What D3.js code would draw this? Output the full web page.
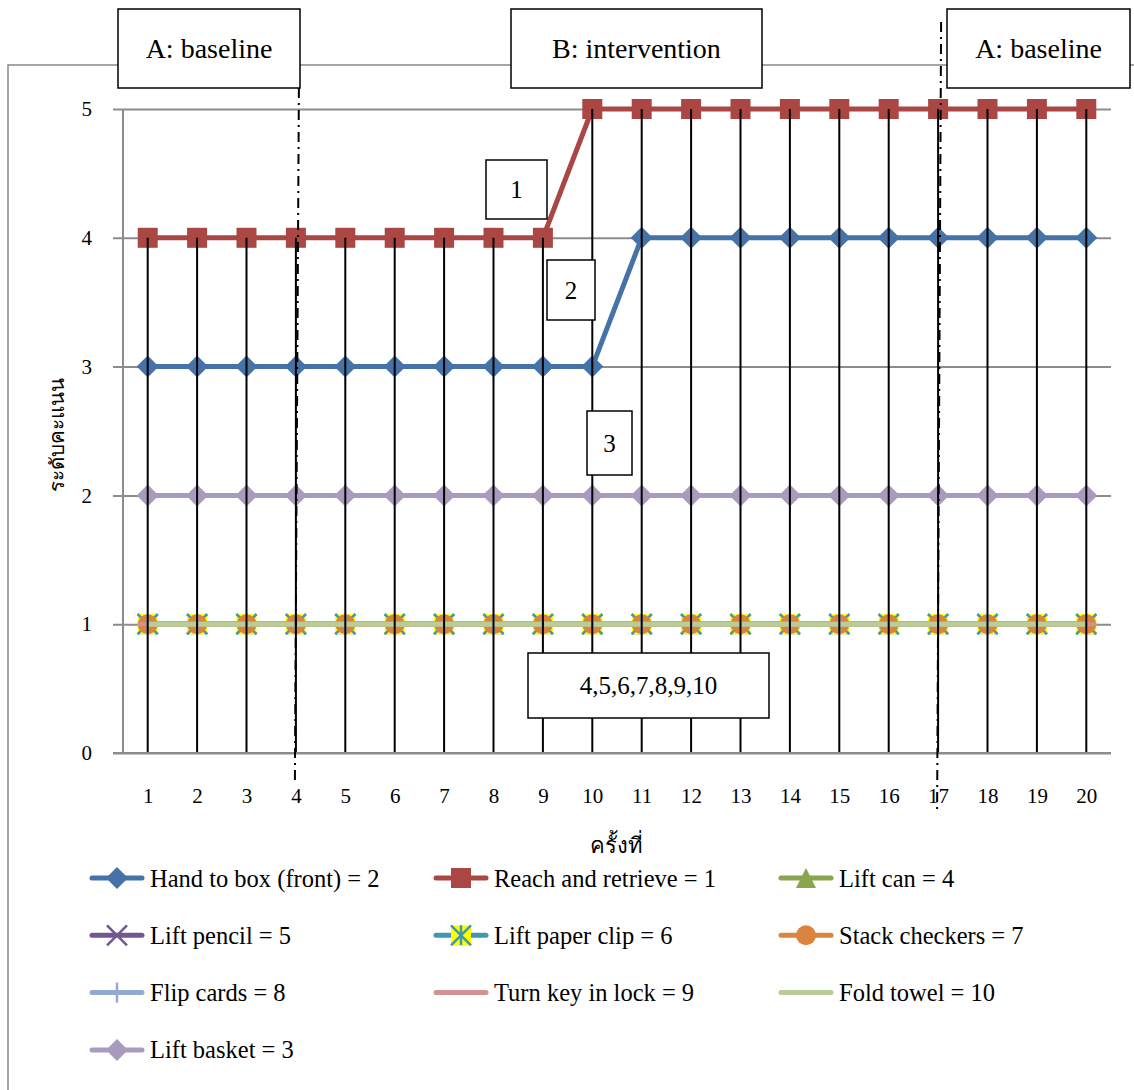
<!DOCTYPE html>
<html>
<head>
<meta charset="utf-8">
<script src="https://cdn.jsdelivr.net/npm/d3@7"></script>
<style>
  body { margin: 0; background: #fff; }
  text { font-family: "Liberation Serif", "Times New Roman", serif; }
  text.thai { font-family: "Noto Sans", sans-serif; }
</style>
</head>
<body>
<script>
const sessions = d3.range(1, 21);
const yTicks = [0, 1, 2, 3, 4, 5];

const handToBox = [3, 3, 3, 3, 3, 3, 3, 3, 3, 3, 4, 4, 4, 4, 4, 4, 4, 4, 4, 4];
const reachRetrieve = [4, 4, 4, 4, 4, 4, 4, 4, 4, 5, 5, 5, 5, 5, 5, 5, 5, 5, 5, 5];
const liftCan = [1, 1, 1, 1, 1, 1, 1, 1, 1, 1, 1, 1, 1, 1, 1, 1, 1, 1, 1, 1];
const liftPencil = [1, 1, 1, 1, 1, 1, 1, 1, 1, 1, 1, 1, 1, 1, 1, 1, 1, 1, 1, 1];
const liftPaperClip = [1, 1, 1, 1, 1, 1, 1, 1, 1, 1, 1, 1, 1, 1, 1, 1, 1, 1, 1, 1];
const stackCheckers = [1, 1, 1, 1, 1, 1, 1, 1, 1, 1, 1, 1, 1, 1, 1, 1, 1, 1, 1, 1];
const flipCards = [1, 1, 1, 1, 1, 1, 1, 1, 1, 1, 1, 1, 1, 1, 1, 1, 1, 1, 1, 1];
const turnKey = [1, 1, 1, 1, 1, 1, 1, 1, 1, 1, 1, 1, 1, 1, 1, 1, 1, 1, 1, 1];
const foldTowel = [1, 1, 1, 1, 1, 1, 1, 1, 1, 1, 1, 1, 1, 1, 1, 1, 1, 1, 1, 1];
const liftBasket = [2, 2, 2, 2, 2, 2, 2, 2, 2, 2, 2, 2, 2, 2, 2, 2, 2, 2, 2, 2];

const seriesNames = [
  "Hand to box (front) = 2", "Reach and retrieve = 1", "Lift can = 4",
  "Lift pencil = 5", " Lift paper clip = 6", "Stack checkers = 7",
  "Flip cards = 8", "Turn key in lock = 9", "Fold towel = 10",
  "Lift basket = 3"
];
const seriesValues = [
  handToBox, reachRetrieve, liftCan, liftPencil, liftPaperClip,
  stackCheckers, flipCards, turnKey, foldTowel, liftBasket
];
const seriesColors = [
  "#4572a7", "#aa4643", "#89a54e", "#71588f", "#4198af",
  "#db843d", "#93a9cf", "#d19392", "#b9cd96", "#a99bbd"
];
const seriesMarkers = [
  "diamond", "square", "triangle", "cross", "star",
  "circle", "plus", "dash", "none", "diamond"
];

const phaseLabels = ["A: baseline", "B: intervention", "A: baseline"];
const phaseSplits = [4, 17];
const noteLabels = ["1", "2", "3", "4,5,6,7,8,9,10"];

const width = 1134;
const height = 1090;
const plotLeft = 123;
const plotRight = 1111;
const plotTop = 109;
const plotBottom = 753;

const svg = d3.select("body").append("svg")
  .attr("width", width)
  .attr("height", height);

const x = d3.scalePoint()
  .domain(sessions)
  .range([plotLeft, plotRight])
  .padding(0.5);

const y = d3.scaleLinear()
  .domain([0, 5])
  .range([plotBottom, plotTop]);

// outer chart border (top + left only visible)
svg.append("path")
  .attr("d", `M${width},65 H8 V${height}`)
  .attr("fill", "none")
  .attr("stroke", "#888")
  .attr("stroke-width", 1.5);

// gridlines + y axis
const yAxis = d3.axisLeft(y)
  .tickValues(yTicks)
  .tickFormat(d3.format("d"))
  .tickSize(-(plotRight - plotLeft))
  .tickPadding(31);

const gy = svg.append("g")
  .attr("transform", `translate(${plotLeft},0)`)
  .call(yAxis)
  .attr("font-family", null);
gy.select(".domain").remove();
gy.selectAll(".tick line")
  .attr("x1", -10)
  .attr("stroke", "#8c8c8c")
  .attr("stroke-width", 2);
gy.selectAll(".tick text")
  .attr("font-size", 21)
  .attr("fill", "#000");

svg.append("line")
  .attr("x1", plotLeft).attr("x2", plotLeft)
  .attr("y1", plotTop).attr("y2", plotBottom)
  .attr("stroke", "#8c8c8c")
  .attr("stroke-width", 2);

const xAxis = d3.axisBottom(x).tickSize(0).tickPadding(35);
const gx = svg.append("g")
  .attr("transform", `translate(0,${plotBottom})`)
  .call(xAxis)
  .attr("font-family", null);
gx.select(".domain").remove();
gx.selectAll(".tick text")
  .attr("font-size", 21)
  .attr("fill", "#000");

// axis titles
svg.append("text")
  .attr("class", "thai")
  .attr("x", x(10) + 24)
  .attr("y", 853)
  .attr("text-anchor", "middle")
  .attr("font-size", 22)
  .text("ครั้งที่");

svg.append("text")
  .attr("class", "thai")
  .attr("transform", `translate(64,${(y(2) + y(3)) / 2 + 4}) rotate(-90)`)
  .attr("text-anchor", "middle")
  .attr("font-size", 20.5)
  .text("ระดับคะแนน");

// series lines
const line = d3.line()
  .x((d, i) => x(sessions[i]))
  .y(d => y(d));

function drawMarker(g, type, color, size) {
  const h = size / 2;
  if (type === "diamond") {
    g.append("path")
      .attr("d", `M0,${-h - 1}L${h + 1},0L0,${h + 1}L${-h - 1},0Z`)
      .attr("fill", color);
  } else if (type === "square") {
    g.append("rect")
      .attr("x", -h).attr("y", -h)
      .attr("width", size).attr("height", size)
      .attr("fill", color);
  } else if (type === "triangle") {
    g.append("path")
      .attr("d", `M0,${-h}L${h},${h}L${-h},${h}Z`)
      .attr("fill", color);
  } else if (type === "circle") {
    g.append("circle")
      .attr("r", h)
      .attr("fill", color);
  } else if (type === "cross") {
    g.append("path")
      .attr("d", `M${-h},${-h}L${h},${h}M${-h},${h}L${h},${-h}`)
      .attr("stroke", color).attr("stroke-width", 2.5);
  } else if (type === "plus") {
    g.append("path")
      .attr("d", `M0,${-h}V${h}`)
      .attr("stroke", color).attr("stroke-width", 2.5);
  } else if (type === "star") {
    g.append("rect")
      .attr("x", -h).attr("y", -h)
      .attr("width", size).attr("height", size)
      .attr("fill", "#ffff00");
    g.append("path")
      .attr("d", `M${-h},${-h}L${h},${h}M${-h},${h}L${h},${-h}M0,${-h}V${h}`)
      .attr("stroke", color).attr("stroke-width", 2.5);
  } else if (type === "dash") {
    g.append("path")
      .attr("d", `M${-h},0H${h}`)
      .attr("stroke", color).attr("stroke-width", 4);
  }
}

seriesValues.forEach(function (vals, k) {
  const g = svg.append("g");
  g.append("path")
    .datum(vals)
    .attr("d", line)
    .attr("fill", "none")
    .attr("stroke", seriesColors[k])
    .attr("stroke-width", 5)
    .attr("stroke-linejoin", "round");
  vals.forEach(function (v, i) {
    const m = g.append("g")
      .attr("transform", `translate(${x(sessions[i])},${y(v)})`);
    drawMarker(m, seriesMarkers[k], seriesColors[k], 20);
  });
});

// drop lines from highest point to axis
sessions.forEach(function (s, i) {
  const top = d3.max(seriesValues, vals => vals[i]);
  svg.append("line")
    .attr("x1", x(s)).attr("x2", x(s))
    .attr("y1", y(top)).attr("y2", plotBottom)
    .attr("stroke", "#000")
    .attr("stroke-width", 2);
});

// x axis baseline
svg.append("line")
  .attr("x1", plotLeft - 10).attr("x2", plotRight)
  .attr("y1", plotBottom).attr("y2", plotBottom)
  .attr("stroke", "#8c8c8c")
  .attr("stroke-width", 2);

// phase change lines
const splitTops = [88, 22];
const splitBottoms = [780, 810];
phaseSplits.forEach(function (s, i) {
  svg.append("line")
    .attr("x1", x(s) + 3).attr("x2", x(s) - 1)
    .attr("y1", splitTops[i]).attr("y2", splitBottoms[i])
    .attr("stroke", "#000")
    .attr("stroke-width", 2)
    .attr("stroke-dasharray", "10,5,2,5");
});

// boxes
function textBox(label, bx, by, bw, bh, fs) {
  svg.append("rect")
    .attr("x", bx).attr("y", by)
    .attr("width", bw).attr("height", bh)
    .attr("fill", "#fff")
    .attr("stroke", "#000")
    .attr("stroke-width", 1.5);
  svg.append("text")
    .attr("x", bx + bw / 2)
    .attr("y", by + bh / 2)
    .attr("dy", "0.35em")
    .attr("text-anchor", "middle")
    .attr("font-size", fs)
    .text(label);
}

textBox(phaseLabels[0], 118, 9, 182, 79, 28);
textBox(phaseLabels[1], 511, 9, 251, 79, 28);
textBox(phaseLabels[2], 947, 9, 183, 79, 28);

textBox(noteLabels[0], 486, 160, 61, 59, 25);
textBox(noteLabels[1], 547, 260, 48, 60, 25);
textBox(noteLabels[2], 587, 411, 45, 64, 25);
textBox(noteLabels[3], 528, 653, 241, 65, 25);

// legend
const legendCols = [92, 436, 781];
const legendRowTop = 878;
const legendRowGap = 57.3;
seriesNames.forEach(function (name, k) {
  const lx = legendCols[k % 3];
  const ly = legendRowTop + Math.floor(k / 3) * legendRowGap;
  const g = svg.append("g").attr("transform", `translate(${lx},${ly})`);
  g.append("line")
    .attr("x1", 0).attr("x2", 50)
    .attr("stroke", seriesColors[k])
    .attr("stroke-width", 5)
    .attr("stroke-linecap", "round");
  const m = g.append("g").attr("transform", "translate(25,0)");
  drawMarker(m, seriesMarkers[k], seriesColors[k], 20);
  g.append("text")
    .attr("x", 58)
    .attr("dy", "0.35em")
    .attr("font-size", 24.5)
    .text(name);
});
</script>
</body>
</html>
